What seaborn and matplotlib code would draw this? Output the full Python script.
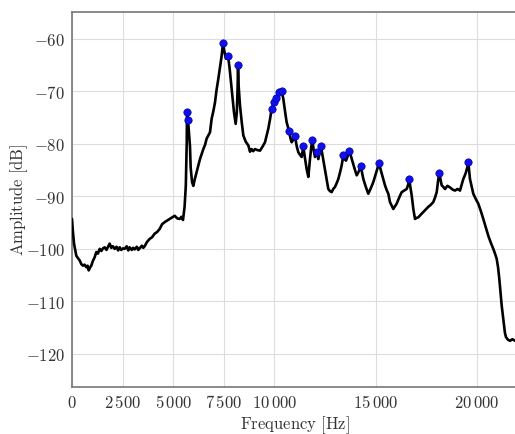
import matplotlib
matplotlib.use("Agg")
import matplotlib.pyplot as plt
import seaborn as sns
import pandas as pd

freq_hz = [0, 40, 100, 212, 300, 380, 460, 543, 620, 706, 770, 825, 900, 953, 1030, 1119, 1200, 1280,
           1367, 1450, 1530, 1613, 1700, 1780, 1860, 1940, 2020, 2107, 2200, 2280, 2354, 2430, 2520, 2600,
           2700, 2780, 2847, 2950, 3020, 3094, 3200, 3270, 3342, 3450, 3520, 3589, 3700, 3835, 3950, 4083,
           4200, 4331, 4450, 4578, 4700, 4824, 4950, 5072, 5200, 5319, 5400, 5481, 5560, 5620, 5665, 5679,
           5700, 5728, 5780, 5827, 5860, 5930, 5991, 6060, 6156, 6240, 6321, 6400, 6486, 6570, 6650, 6730,
           6815, 6897, 6980, 7062, 7140, 7227, 7310, 7392, 7457, 7530, 7605, 7650, 7704, 7780, 7852, 7930,
           8000, 8083, 8140, 8181, 8198, 8230, 8296, 8380, 8461, 8580, 8708, 8790, 8870, 8950, 9037, 9160,
           9284, 9400, 9531, 9615, 9695, 9780, 9862, 9975, 10074, 10222, 10356, 10435, 10520, 10600, 10716,
           10780, 10848, 10930, 11012, 11100, 11177, 11260, 11342, 11422, 11500, 11588, 11671, 11750, 11820,
           11867, 11940, 12000, 12084, 12165, 12230, 12296, 12400, 12494, 12580, 12657, 12740, 12825, 12900,
           12988, 13070, 13151, 13240, 13318, 13398, 13460, 13531, 13620, 13694, 13780, 13862, 13960, 14060,
           14170, 14272, 14330, 14387, 14510, 14632, 14750, 14879, 15020, 15160, 15270, 15373, 15457, 15540,
           15620, 15704, 15790, 15867, 15950, 16033, 16150, 16281, 16400, 16528, 16600, 16657, 16700, 16775,
           16860, 16938, 17020, 17101, 17220, 17348, 17470, 17595, 17720, 17842, 17930, 18010, 18080, 18138,
           18200, 18257, 18340, 18420, 18540, 18667, 18790, 18914, 19040, 19160, 19240, 19323, 19400, 19457,
           19520, 19570, 19610, 19654, 19740, 19817, 19940, 20064, 20190, 20311, 20440, 20558, 20680, 20805,
           20890, 20973, 21040, 21102, 21160, 21220, 21280, 21333, 21380, 21432, 21530, 21630, 21750, 21877,
           22050]
amp_db = [-94.3, -96.5, -99.0, -101.3, -101.8, -102.2, -102.9, -103.2, -103.0, -103.5, -103.2, -104.1,
          -103.5, -103.2, -102.3, -101.6, -100.6, -100.9, -100.0, -100.4, -99.9, -99.7, -100.2, -99.6,
          -99.0, -99.8, -99.5, -100.0, -99.6, -100.3, -99.7, -100.2, -99.9, -100.0, -99.5, -100.3, -99.7,
          -100.2, -99.8, -100.1, -99.6, -100.2, -99.9, -99.4, -99.8, -99.5, -98.7, -98.1, -97.8, -97.1,
          -96.8, -96.2, -95.3, -94.9, -94.6, -94.3, -94.0, -93.7, -94.2, -94.3, -93.9, -94.5, -92.0, -88.0,
          -80.0, -73.9, -74.5, -75.4, -78.0, -80.5, -84.5, -87.3, -88.0, -86.8, -85.4, -84.1, -82.9, -82.0,
          -81.0, -80.2, -79.0, -78.4, -77.8, -75.2, -73.8, -72.1, -69.7, -67.6, -65.4, -63.2, -60.8, -62.5,
          -63.8, -63.4, -63.2, -65.5, -68.3, -71.5, -74.0, -76.2, -74.0, -69.0, -65.0, -69.0, -72.7, -75.8,
          -78.4, -79.6, -80.3, -81.5, -81.0, -81.4, -81.0, -81.2, -81.3, -80.6, -79.7, -78.4, -77.1, -75.3,
          -73.3, -72.1, -71.2, -70.2, -70.0, -71.4, -73.8, -75.9, -77.5, -78.8, -79.7, -79.2, -78.6, -80.5,
          -81.6, -82.1, -82.5, -80.5, -82.6, -84.8, -86.3, -83.0, -80.5, -79.2, -81.3, -82.5, -81.5, -82.9,
          -81.5, -80.5, -82.8, -84.8, -86.9, -88.6, -89.0, -89.2, -88.6, -88.2, -87.5, -86.7, -85.4, -84.1,
          -82.2, -82.9, -83.2, -82.3, -81.4, -82.4, -83.5, -84.8, -86.0, -85.2, -84.3, -85.6, -86.7, -88.2,
          -89.5, -88.5, -87.3, -85.5, -83.7, -85.3, -86.7, -87.9, -88.8, -89.5, -91.1, -91.8, -92.4, -91.9,
          -91.4, -90.3, -89.2, -88.9, -88.6, -87.8, -86.7, -88.0, -89.8, -92.5, -94.3, -94.1, -94.0, -93.5,
          -93.0, -92.5, -92.0, -91.6, -91.1, -90.2, -89.2, -87.0, -85.6, -86.8, -87.9, -88.2, -88.6, -88.0,
          -88.3, -88.7, -88.9, -88.6, -88.9, -87.8, -86.7, -86.0, -85.4, -84.5, -83.5, -85.0, -86.7, -88.2,
          -89.5, -90.5, -91.4, -92.8, -94.3, -96.0, -97.5, -98.8, -100.0, -100.9, -101.9, -103.5, -105.7,
          -108.3, -110.8, -112.8, -114.6, -116.0, -116.8, -117.3, -117.5, -117.2, -117.5, -117.4]

peak_freq_hz = [5679, 5728, 7457, 7704, 8198, 9862, 9975, 10074, 10222, 10356, 10716, 11012, 11422,
                11867, 12084, 12296, 13398, 13694, 14272, 15160, 16657, 18138, 19570]
peak_amp_db = [-73.9, -75.4, -60.8, -63.2, -65.0, -73.3, -72.1, -71.2, -70.2, -70.0, -77.5, -78.6, -80.5,
               -79.2, -81.5, -80.5, -82.2, -81.4, -84.3, -83.7, -86.7, -85.6, -83.5]

x_ticks = [0, 2500, 5000, 7500, 10000, 15000, 20000]
x_tick_labels = [r"$0$", r"$2\,500$", r"$5\,000$", r"$7\,500$", r"$10\,000$", r"$15\,000$", r"$20\,000$"]
y_ticks = [-120, -110, -100, -90, -80, -70, -60]
y_tick_labels = [r"$-120$", r"$-110$", r"$-100$", r"$-90$", r"$-80$", r"$-70$", r"$-60$"]

sns.set_style("whitegrid")
plt.rcParams["mathtext.fontset"] = "cm"
plt.rcParams["font.family"] = ["DejaVu Serif"]

spec = pd.DataFrame({"f": freq_hz, "a": amp_db})
peaks = pd.DataFrame({"f": peak_freq_hz, "a": peak_amp_db})

fig = plt.figure(figsize=(5.15, 4.35), dpi=100)
ax = fig.add_axes([72 / 515, 47 / 435, 446.5 / 515, 375 / 435])

sns.lineplot(data=spec, x="f", y="a", ax=ax, color="black", linewidth=1.9, sort=False, zorder=3)
sns.scatterplot(data=peaks, x="f", y="a", ax=ax, color="#1010ee", s=28, edgecolor="#0000a0",
                linewidth=0.5, zorder=4)

ax.set_xlim(0, 22050)
ax.set_ylim(-126.3, -54.9)
ax.set_xticks(x_ticks)
ax.set_xticklabels(x_tick_labels, fontsize=12)
ax.set_yticks(y_ticks)
ax.set_yticklabels(y_tick_labels, fontsize=12)
ax.grid(True, color="#dddddd", linewidth=0.8)
ax.tick_params(length=0, pad=5, colors="#333333")
for side in ["left", "bottom", "top"]:
    ax.spines[side].set_color("#777777")
    ax.spines[side].set_linewidth(1.2)
ax.spines["right"].set_visible(False)

ax.set_xlabel(r"$\mathrm{Frequency\ [Hz]}$", fontsize=12, color="#333333", va="center")
ax.set_ylabel(r"$\mathrm{Amplitude\ [dB]}$", fontsize=12, color="#333333", va="center")
ax.xaxis.set_label_coords((295 - 72) / 446.5, (388 - 425) / 375)
ax.yaxis.set_label_coords((19 - 72) / 446.5, (388 - 200) / 375)

fig.savefig("out.png", dpi=100)
